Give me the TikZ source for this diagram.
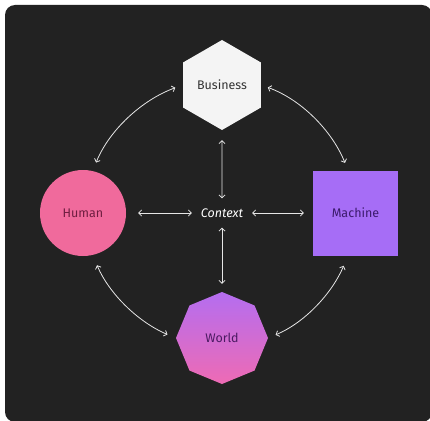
\documentclass[tikz,border=0pt]{standalone}
\usepackage{fontspec}
\setmainfont{Fira Sans}
\usetikzlibrary{arrows.meta,shapes.geometric}
\definecolor{bgdark}{HTML}{222222}
\definecolor{arrowc}{HTML}{E6E6E6}
\definecolor{humanfill}{HTML}{F06A9C}
\definecolor{humantext}{HTML}{6E1D40}
\definecolor{machfill}{HTML}{A66DF6}
\definecolor{machtext}{HTML}{3B1A6C}
\definecolor{worldtop}{HTML}{B46DF0}
\definecolor{worldbot}{HTML}{EE6BB4}
\definecolor{worldtext}{HTML}{4A1A62}
\definecolor{busfill}{HTML}{F4F4F4}
\definecolor{bustext}{HTML}{333333}
\tikzset{
  shapebox/.style={inner sep=0pt, draw=none, font=\fontsize{12.5}{14}\selectfont},
  arr/.style={draw=arrowc, line width=0.8pt,
    {Straight Barb[length=2.8pt,width=6pt]}-{Straight Barb[length=2.8pt,width=6pt]}},
}
\begin{document}
\begin{tikzpicture}[x=1pt,y=-1pt]
\useasboundingbox (0,0) rectangle (430,420);
\begin{scope}
\clip (0,0) rectangle (430,420);
\fill[white] (0,0) rectangle (430,420);
\fill[bgdark, rounded corners=10pt] (5,5) rectangle (432,422);
\end{scope}

\node[shapebox, regular polygon, regular polygon sides=6, shape border rotate=30,
  minimum size=90pt, fill=busfill, text=bustext] (bus) at (222,85) {Business};
\node[shapebox, circle, minimum size=86pt, fill=humanfill, text=humantext] (hum) at (83,213) {Human};
\node[shapebox, rectangle, minimum size=85pt, fill=machfill, text=machtext] (mac) at (355.5,213) {Machine};
\node[shapebox, regular polygon, regular polygon sides=8, shape border rotate=22.5,
  minimum size=92pt, top color=worldtop, bottom color=worldbot, text=worldtext] (wor) at (222,338) {World};
\node[inner sep=0pt, minimum width=60pt, minimum height=29pt, text=white,
  font=\fontsize{12.5}{14}\selectfont\itshape] (ctx) at (222,213) {Context};

\draw[arr, shorten <=10pt] (bus) -- (ctx);
\draw[arr, shorten >=8pt] (ctx) -- (wor);
\draw[arr, shorten <=12pt] (hum) -- (ctx);
\draw[arr, shorten >=9pt] (ctx) -- (mac);

\draw[arr, shorten <=8pt, shorten >=9pt] (bus.west) to[out=200, in=68, looseness=0.9] (hum.77);
\draw[arr, shorten <=7pt, shorten >=8pt] (bus.east) to[out=-20, in=112, looseness=0.9] (mac.100);
\draw[arr, shorten <=11pt, shorten >=9pt] (hum.-77) to[out=-67, in=157, looseness=0.9] (wor.west);
\draw[arr, shorten <=11pt, shorten >=8pt] (mac.-100) to[out=-113, in=23, looseness=0.9] (wor.east);
\end{tikzpicture}
\end{document}
